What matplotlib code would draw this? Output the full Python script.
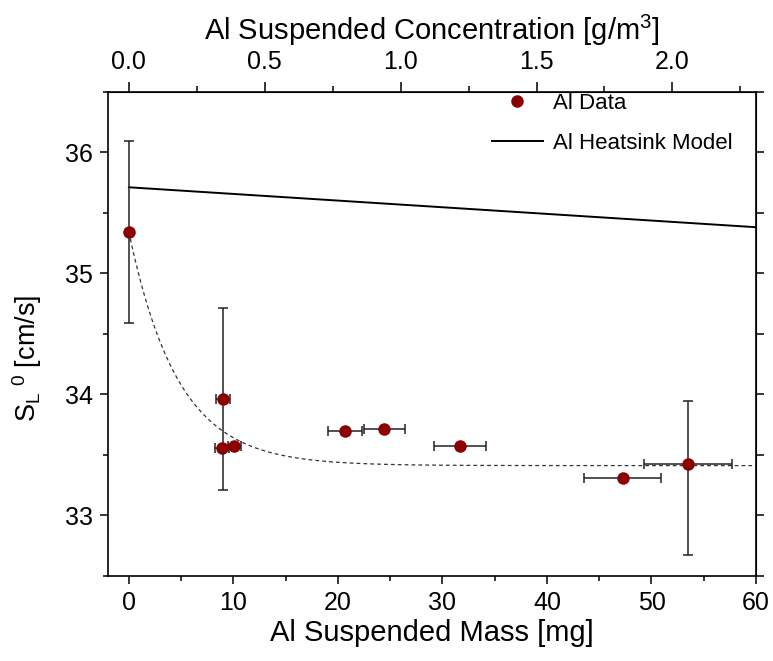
import numpy as np
import matplotlib.pyplot as plt
from matplotlib.ticker import MultipleLocator, FixedLocator

plt.rcParams['font.family'] = ['Liberation Sans', 'DejaVu Sans']
plt.rcParams['mathtext.fontset'] = 'custom'
plt.rcParams['mathtext.rm'] = 'Liberation Sans'

# Al data (mass in mg, flame speed in cm/s)
mass = [0.0, 9.0, 8.9, 10.1, 20.7, 24.45, 31.65, 47.25, 53.5]
speed = [35.34, 33.96, 33.555, 33.575, 33.70, 33.71, 33.57, 33.31, 33.42]
mass_err = [0.0, 0.7, 0.7, 0.65, 1.65, 1.95, 2.5, 3.7, 4.2]
speed_err_lo = [0.75, 0.75, 0.0, 0.0, 0.0, 0.0, 0.0, 0.0, 0.75]
speed_err_hi = [0.75, 0.75, 0.0, 0.0, 0.0, 0.0, 0.0, 0.0, 0.52]

# heatsink model line
model_mass = [0.0, 60.0]
model_speed = [35.71, 35.38]

# exponential fit of the data (dashed)
fit_base = 33.41
fit_amp = 1.93
fit_tau = 4.7

# mg per g/m^3 (chamber volume)
mg_per_conc = 26.0
top_ticks = [0.0, 0.5, 1.0, 1.5, 2.0]
top_minor = [0.25, 0.75, 1.25, 1.75, 2.25]

fig = plt.figure(figsize=(7.73, 6.61), dpi=100)
ax = fig.add_axes([0.1397, 0.129, 0.8383, 0.7323])

x_fit = np.linspace(0, 60, 400)
ax.plot(x_fit, fit_base + fit_amp * np.exp(-x_fit / fit_tau),
        color='#333333', lw=0.9, linestyle=(0, (3, 2.5)), zorder=1)

ax.errorbar(mass, speed, xerr=mass_err, yerr=[speed_err_lo, speed_err_hi],
            fmt='none', ecolor='#222222', elinewidth=1.1, capsize=3.5,
            capthick=1.1, zorder=3)
ax.plot(mass, speed, 'o', color='#8b0000', ms=8, mec='#8b0000',
        label='Al Data', zorder=4, linestyle='none')
ax.plot(model_mass, model_speed, color='black', lw=1.4, label='Al Heatsink Model', zorder=2)

ax.set_xlim(-2, 60)
ax.set_ylim(32.5, 36.5)
ax.xaxis.set_major_locator(MultipleLocator(10))
ax.xaxis.set_minor_locator(MultipleLocator(5))
ax.yaxis.set_major_locator(MultipleLocator(1))
ax.yaxis.set_minor_locator(MultipleLocator(0.5))
ax.tick_params(which='major', direction='out', length=6, width=1.1,
               labelsize=18, pad=5)
ax.tick_params(which='minor', direction='out', length=3.5, width=1.1)
for s in ax.spines.values():
    s.set_linewidth(1.2)

ax.set_xlabel('Al Suspended Mass [mg]', fontsize=21, labelpad=3)
ax.set_ylabel(r'S$_\mathregular{L}$$^{\ \mathregular{0}}$ [cm/s]', fontsize=19.5)
ax.yaxis.set_label_coords(-0.098, 0.45)

top = ax.secondary_xaxis('top', functions=(lambda m: m / mg_per_conc,
                                           lambda c: c * mg_per_conc))
top.xaxis.set_major_locator(FixedLocator(top_ticks))
top.xaxis.set_minor_locator(FixedLocator(top_minor))
top.xaxis.set_major_formatter(plt.FormatStrFormatter('%.1f'))
top.tick_params(which='major', direction='out', length=7, width=1.1,
                labelsize=18, pad=6)
top.tick_params(which='minor', direction='out', length=4, width=1.1)
top.set_xlabel(r'Al Suspended Concentration [g/m$^\mathregular{3}$]',
               fontsize=21, labelpad=7)

right = ax.secondary_yaxis('right')
right.yaxis.set_major_locator(MultipleLocator(0.5))
right.tick_params(which='major', direction='out', length=6, width=1.1,
                  labelright=False)

ax.legend(loc='upper right', bbox_to_anchor=(0.981, 1.02), frameon=False,
          fontsize=16, handlelength=2.3, handletextpad=0.45,
          labelspacing=0.85, borderaxespad=0.1)

fig.savefig('out.png', dpi=100)
